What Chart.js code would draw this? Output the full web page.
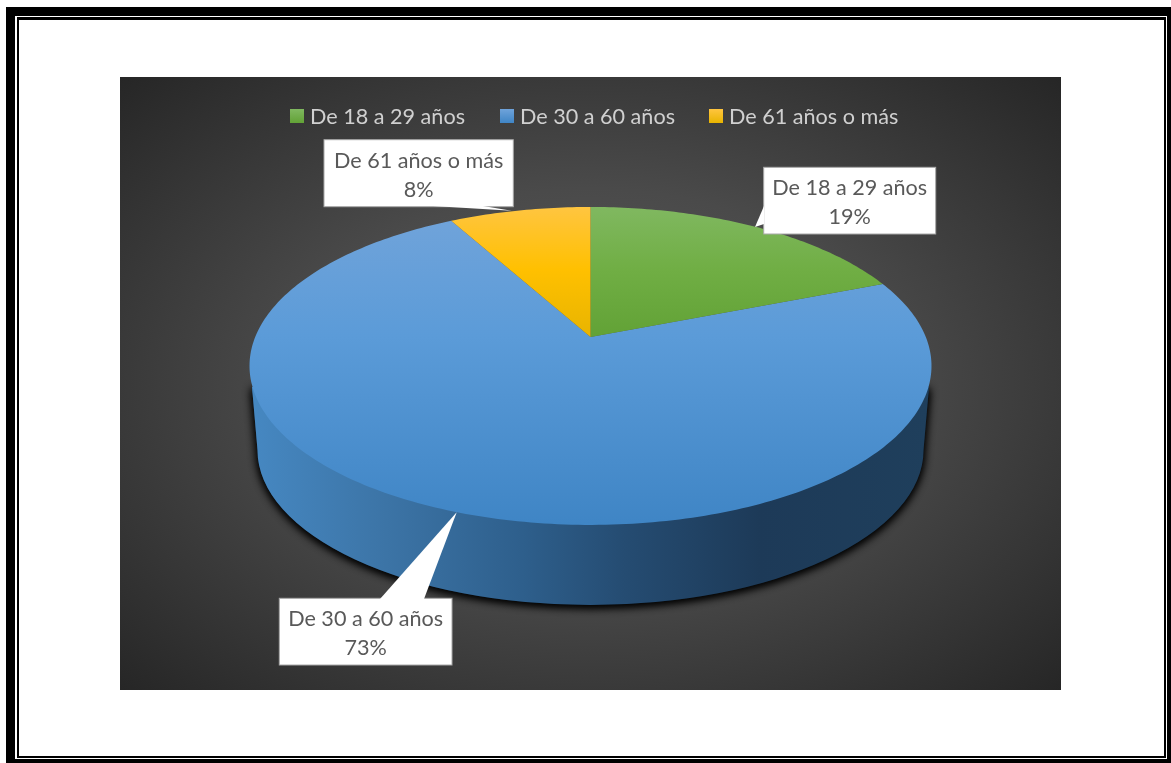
<!DOCTYPE html>
<html lang="es">
<head>
<meta charset="utf-8">
<title>Distribución por edad</title>
<script src="https://cdn.jsdelivr.net/npm/chart.js@4/dist/chart.umd.js"></script>
<style>
    html, body { margin: 0; height: 100%; background: #fff; overflow: hidden; }
    .frame { position: absolute; box-sizing: border-box; border-style: solid; border-color: #000; }
    #outer { left: 6px; top: 7px; width: 1165px; height: 756px; border-width: 9px 4px 4px 9px; }
    #inner { left: 17px; top: 17px; width: 1149px; height: 741px; border-width: 3px 2px 2px 2px; }
    #plot {
        position: absolute; left: 120px; top: 77px; width: 941px; height: 613px;
        background: radial-gradient(ellipse farthest-corner at 50% 50%, #5c5c5c 0%, #4a4a4a 45%, #262626 100%);
    }
</style>
</head>
<body>
<div class="frame" id="outer"></div>
<div class="frame" id="inner"></div>
<canvas id="plot" width="941" height="613"></canvas>
<script>
    const categories = ['De 18 a 29 años', 'De 30 a 60 años', 'De 61 años o más'];
    const shares = [19, 73, 8];
    const sliceColors = ['#70ae44', '#5b9bd8', '#ffc000'];
    const sliceColorsLight = ['#80b860', '#6fa3da', '#ffc540'];
    const sliceColorsDark = ['#62a236', '#3f85c5', '#e8b400'];

    const FONT = '"Lato", "Open Sans", sans-serif';
    const TEXT_SIZE = 21.6;

    // Tilted disc: the apex sits above the middle of the ellipse because of the perspective
    const disc = { x: 470.5, y: 260, a: 335.3, b: 153.7, k: 0.182 };
    const rim = { x: 470.5, y: 373, a: 333, b: 155 };

    // Where each slice's gradient starts, passes its base colour and ends
    const sliceGradientY = [[130, 193, 260], [145, 260, 448], [130, 193, 260]];

    const legendX = [170, 380, 589];

    // Callout boxes in canvas pixels, with the triangle that points at each slice
    const callouts = [
        { box: [643.7, 90.3, 172, 66.7], tail: [[644, 129], [635, 150], [644, 147]] },
        { box: [159.3, 521.3, 172.7, 66.7], tail: [[260, 522], [336.7, 435.3], [304, 522]] },
        { box: [204, 62.7, 189.3, 67], tail: [[313, 129], [391.7, 133.7], [363, 129]] }
    ];

    function project(angle) {
        const u = Math.cos(angle);
        const v = Math.sin(angle);
        const d = 1 - disc.k * v;
        return [disc.x + disc.a * u / d, disc.y + disc.b * v / d];
    }

    function wallPath(ctx) {
        ctx.beginPath();
        ctx.ellipse(rim.x, rim.y, rim.a, rim.b, 0, 0, Math.PI);
        ctx.lineTo(132, 310);
        ctx.lineTo(809, 310);
        ctx.closePath();
    }

    function drawWall(ctx) {
        const grad = ctx.createLinearGradient(130, 0, 810, 0);
        grad.addColorStop(0, '#4688c2');
        grad.addColorStop(0.2, '#3c74a6');
        grad.addColorStop(0.4, '#2e5f8c');
        grad.addColorStop(0.55, '#254c72');
        grad.addColorStop(0.75, '#1d3a58');
        grad.addColorStop(1, '#1f3f5c');

        // Two passes, one shadow alone is too faint along the lower edge
        ctx.save();
        ctx.shadowColor = '#000';
        ctx.shadowBlur = 10;
        ctx.shadowOffsetY = 2;
        ctx.fillStyle = grad;
        wallPath(ctx);
        ctx.fill();
        ctx.fill();
        ctx.restore();
    }

    function drawSlice(ctx, arc, index) {
        const [y0, y1, y2] = sliceGradientY[index];
        const grad = ctx.createLinearGradient(0, y0, 0, y2);
        grad.addColorStop(0, sliceColorsLight[index]);
        grad.addColorStop((y1 - y0) / (y2 - y0), sliceColors[index]);
        grad.addColorStop(1, sliceColorsDark[index]);

        ctx.beginPath();
        ctx.moveTo(disc.x, disc.y);
        const steps = Math.ceil((arc.endAngle - arc.startAngle) * 60);
        for (let i = 0; i <= steps; i++) {
            const p = project(arc.startAngle + (arc.endAngle - arc.startAngle) * i / steps);
            ctx.lineTo(p[0], p[1]);
        }
        ctx.closePath();
        ctx.fillStyle = grad;
        ctx.fill();
    }

    function drawCallout(ctx, callout, index) {
        const [x, y, w, h] = callout.box;
        ctx.fillStyle = '#fff';
        ctx.strokeStyle = '#a8a8a8';
        ctx.lineWidth = 1;
        ctx.fillRect(x, y, w, h);
        ctx.strokeRect(x, y, w, h);

        ctx.beginPath();
        callout.tail.forEach((p, i) => i ? ctx.lineTo(p[0], p[1]) : ctx.moveTo(p[0], p[1]));
        ctx.closePath();
        ctx.fill();

        ctx.fillStyle = '#595959';
        ctx.font = TEXT_SIZE + 'px ' + FONT;
        ctx.textAlign = 'center';
        ctx.textBaseline = 'middle';
        ctx.fillText(categories[index], x + w / 2, y + 21);
        ctx.fillText(shares[index] + '%', x + w / 2, y + 50);
    }

    // Swatch and text sit closer together than the built-in legend allows
    function drawLegend(ctx) {
        ctx.font = TEXT_SIZE + 'px ' + FONT;
        ctx.textAlign = 'left';
        ctx.textBaseline = 'middle';
        categories.forEach((label, i) => {
            const grad = ctx.createLinearGradient(0, 32, 0, 46);
            grad.addColorStop(0, sliceColorsLight[i]);
            grad.addColorStop(1, sliceColorsDark[i]);
            ctx.fillStyle = grad;
            ctx.fillRect(legendX[i], 32, 14, 14);
            ctx.fillStyle = '#d0d0d0';
            ctx.fillText(label, legendX[i] + 20, 40);
        });
    }

    // Replaces the flat arcs with the tilted disc, still driven by the arc angles
    const tiltedPie = {
        id: 'tiltedPie',
        beforeDatasetDraw(chart, args) {
            const ctx = chart.ctx;
            drawWall(ctx);
            [1, 0, 2].forEach(i => drawSlice(ctx, args.meta.data[i], i));
            return false;
        },
        afterDatasetsDraw(chart) {
            drawLegend(chart.ctx);
            callouts.forEach((c, i) => drawCallout(chart.ctx, c, i));
        }
    };

    new Chart(document.getElementById('plot'), {
        type: 'pie',
        data: {
            labels: categories,
            datasets: [{ data: shares, backgroundColor: sliceColors, borderWidth: 0 }]
        },
        options: {
            responsive: false,
            animation: false,
            plugins: {
                tooltip: { enabled: false },
                legend: { display: false }
            }
        },
        plugins: [tiltedPie]
    });
</script>
</body>
</html>
